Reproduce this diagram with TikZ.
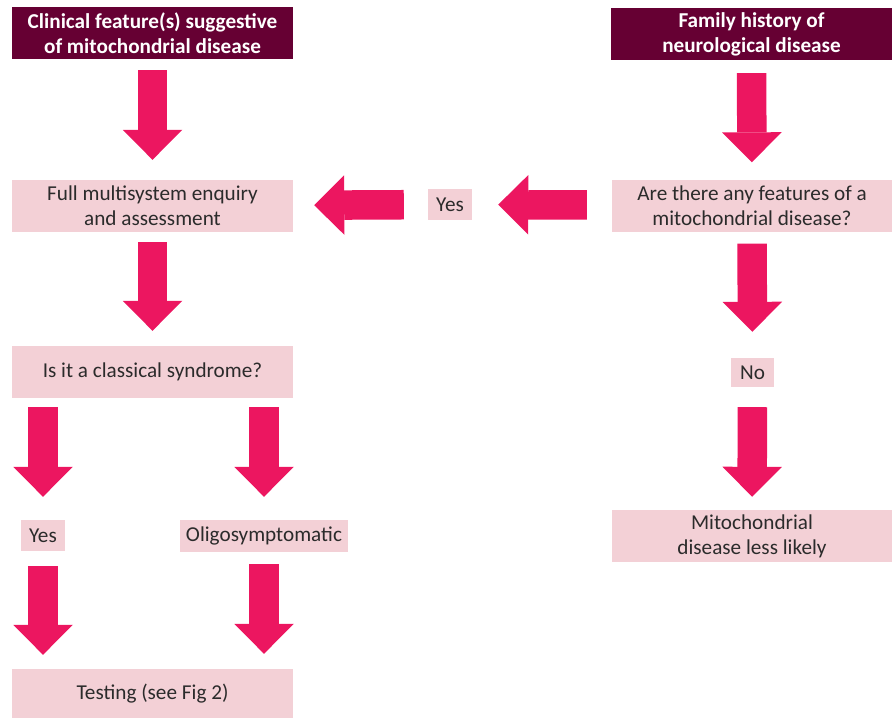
\documentclass[tikz,border=0pt]{standalone}
\usepackage{fontspec}
\setmainfont{Carlito}
\usepackage{tikz}
\usetikzlibrary{arrows.meta,positioning,calc}
\definecolor{mtDark}{HTML}{660033}
\definecolor{mtPink}{HTML}{F3D0D6}
\definecolor{mtArrow}{HTML}{EC1660}
\definecolor{mtText}{HTML}{2B2B2B}

\tikzset{
  headbox/.style={fill=mtDark, text=white, font=\bfseries\fontsize{21.2}{25}\selectfont,
    align=center, inner sep=0pt, minimum width=281pt, minimum height=52pt},
  stepbox/.style={fill=mtPink, text=mtText, font=\fontsize{21.2}{25}\selectfont,
    align=center, inner sep=0pt, minimum width=281pt, minimum height=52pt},
  tagbox/.style={fill=mtPink, text=mtText, font=\fontsize{21.2}{25}\selectfont,
    inner sep=0pt, minimum height=31pt},
  blk/.style 2 args={draw=mtArrow, line width=29.5pt,
    -{Triangle[width=59.5pt,length=30pt,line width=0pt]},
    shorten <=#1pt, shorten >=#2pt}
}

\begin{document}
\begin{tikzpicture}[x=1pt, y=-1pt]
  \useasboundingbox (0,0) rectangle (896,718);
  % left column
  \node[headbox] (clin) at (152.5,33) {Clinical feature(s) suggestive\\of mitochondrial disease};
  \node[stepbox] (full) at (152.5,206) {Full multisystem enquiry\\and assessment};
  \node[stepbox] (class) at (152.5,372) {Is it a classical syndrome?};
  \node[tagbox, minimum width=44pt] (yesL) at (43,535.5) {Yes};
  \node[tagbox, minimum width=168pt, minimum height=32pt] (oligo) at (264,536) {Oligosymptomatic};
  \node[stepbox, minimum height=49pt] (test) at (152.5,693.5) {Testing (see Fig 2)};
  % right column
  \node[headbox] (fam) at (751.5,34) {Family history of\\neurological disease};
  \node[stepbox, minimum width=280pt] (feat) at (752,205.5) {Are there any features of a\\mitochondrial disease?};
  \node[tagbox, minimum width=44pt] (yesM) at (450,204.5) {Yes};
  \node[tagbox, minimum width=43pt, minimum height=29pt] (no) at (752.5,372.5) {No};
  \node[stepbox, minimum width=280pt] (less) at (752,536) {Mitochondrial\\disease less likely};

  % block arrows
  \draw[blk={11}{20}] (clin) -- (full);
  \draw[blk={10}{15}] (full) -- (class);
  \draw[blk={9}{23}] (yesL |- class.south) -- (yesL);
  \draw[blk={9}{23}] (oligo |- class.south) -- (oligo);
  \draw[blk={15}{14}] (yesL) -- (yesL |- test.north);
  \draw[blk={12}{15}] (oligo) -- (oligo |- test.north);
  \draw[blk={13}{17}] (fam) -- (feat);
  \draw[blk={12}{26}] (feat) -- (no);
  \draw[blk={20}{13}] (no) -- (less);
  \draw[blk={25}{26}] (feat) -- (yesM);
  \draw[blk={24}{21}] (yesM) -- (full);
\end{tikzpicture}
\end{document}
